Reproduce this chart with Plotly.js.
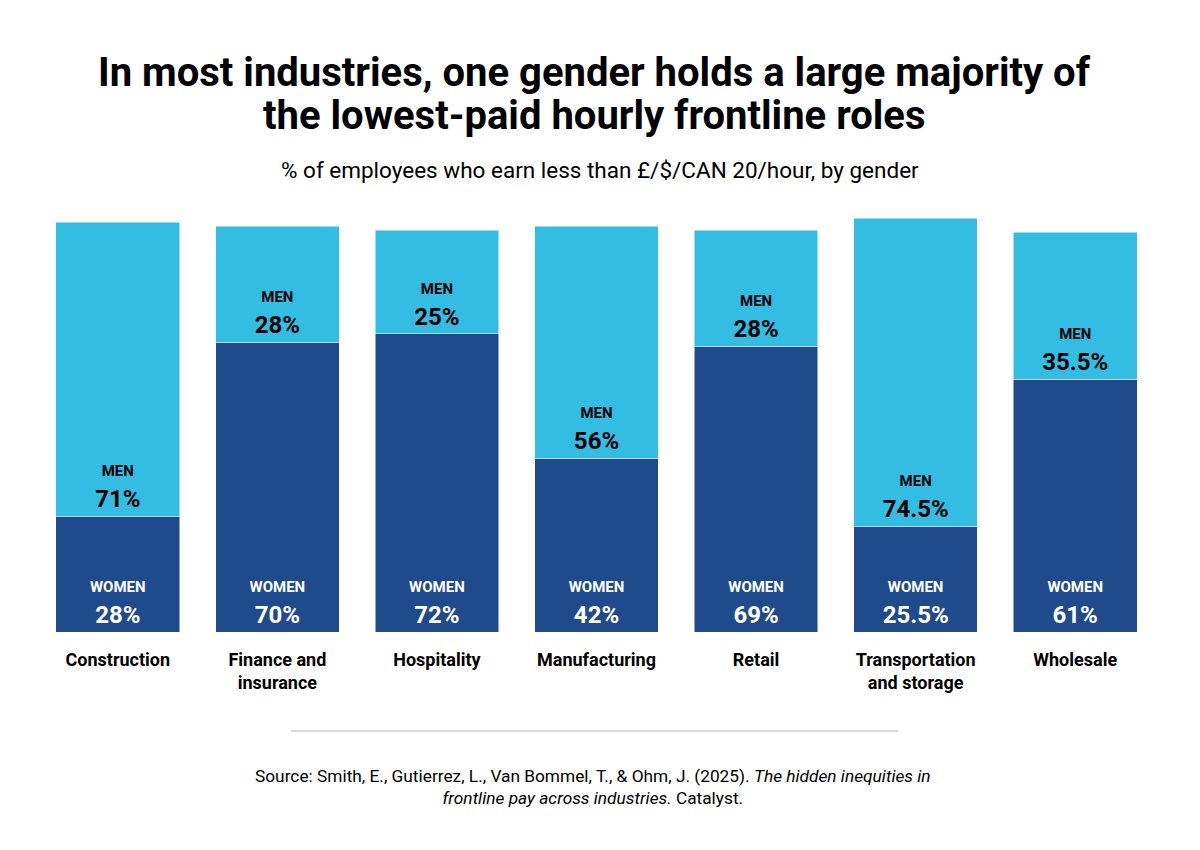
<!DOCTYPE html>
<html>
<head>
<meta charset="utf-8">
<script src="https://cdn.plot.ly/plotly-3.0.1.min.js"></script>
<style>html,body{margin:0;padding:0;background:#fff;}#chart{width:1200px;height:850px;}</style>
</head>
<body>
<div id="chart"></div>
<script>
const categories = ["Construction", "Finance and<br>insurance", "Hospitality", "Manufacturing", "Retail", "Transportation<br>and storage", "Wholesale"];
const women = [28, 70, 72, 42, 69, 25.5, 61];
const men = [71, 28, 25, 56, 28, 74.5, 35.5];
const titleLines = ["In most industries, one gender holds a large majority of", "the lowest-paid hourly frontline roles"];

function labels(name, vals) {
  return vals.map(v => '<span style="font-size:15px">' + name + '</span><br><span style="font-size:24px">' + v + '%</span>');
}

const traces = [
  {
    type: 'bar', name: 'Women', x: categories, y: women,
    marker: {color: '#1f4a8c', line: {color: '#ffffff', width: 0.5}},
    text: labels('WOMEN', women), textposition: 'inside', insidetextanchor: 'start',
    textangle: 0, constraintext: 'none',
    insidetextfont: {family: 'Roboto, sans-serif', color: '#ffffff', size: 24, weight: 'bold'},
    hoverinfo: 'none'
  },
  {
    type: 'bar', name: 'Men', x: categories, y: men,
    marker: {color: '#33bde3', line: {color: '#ffffff', width: 0.5}},
    text: labels('MEN', men), textposition: 'inside', insidetextanchor: 'start',
    textangle: 0, constraintext: 'none',
    insidetextfont: {family: 'Roboto, sans-serif', color: '#000000', size: 24, weight: 'bold'},
    hoverinfo: 'none'
  }
];

function py(p) { return (632 - p) / 414; }

const layout = {
  width: 1200, height: 850,
  barmode: 'stack', bargap: 0.225,
  showlegend: false,
  paper_bgcolor: '#ffffff', plot_bgcolor: '#ffffff',
  margin: {l: 38, r: 45, t: 218, b: 218},
  font: {family: 'Roboto, sans-serif', color: '#000000'},
  xaxis: {
    type: 'category', showgrid: false, zeroline: false, showline: false,
    ticks: '', tickfont: {family: 'Roboto, sans-serif', size: 18, color: '#000000', weight: 'bold'},
    ticklabelstandoff: 15
  },
  yaxis: {range: [0, 100], visible: false, showgrid: false, zeroline: false, fixedrange: true},
  annotations: [
    {
      text: '<b>' + titleLines[0] + '</b>',
      xref: 'paper', yref: 'paper', x: (594-38)/1117, y: py(72), xanchor: 'center', yanchor: 'middle',
      showarrow: false, font: {family: 'Roboto, sans-serif', size: 40, color: '#000000'}
    },
    {
      text: '<b>' + titleLines[1] + '</b>',
      xref: 'paper', yref: 'paper', x: (594-38)/1117, y: py(115), xanchor: 'center', yanchor: 'middle',
      showarrow: false, font: {family: 'Roboto, sans-serif', size: 40, color: '#000000'}
    },
    {
      text: '% of employees who earn less than £/$/CAN 20/hour, by gender',
      xref: 'paper', yref: 'paper', x: (600-38)/1117, y: py(170), xanchor: 'center', yanchor: 'middle',
      showarrow: false, font: {family: 'Roboto, sans-serif', size: 22.5, color: '#000000'}
    },
    {
      text: 'Source: Smith, E., Gutierrez, L., Van Bommel, T., & Ohm, J. (2025). <i>The hidden inequities in</i><br><i>frontline pay across industries.</i> Catalyst.',
      xref: 'paper', yref: 'paper', x: (593-38)/1117, y: py(787), xanchor: 'center', yanchor: 'middle',
      showarrow: false, align: 'center', font: {family: 'Roboto, sans-serif', size: 17.3, color: '#000000'}
    }
  ],
  shapes: [
    {type: 'line', xref: 'paper', yref: 'paper', x0: (291-38)/1117, x1: (898-38)/1117, y0: py(731), y1: py(731),
     line: {color: '#d9d9d9', width: 2}}
  ]
};

Plotly.newPlot('chart', traces, layout, {displayModeBar: false, staticPlot: true});
</script>
</body>
</html>
